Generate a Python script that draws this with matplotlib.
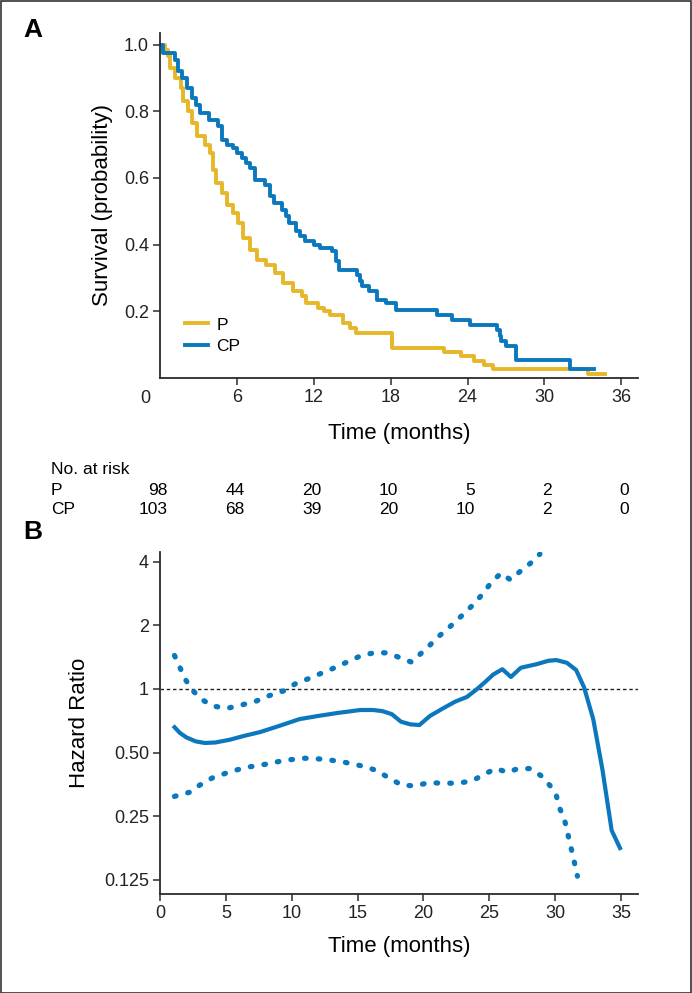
import matplotlib
matplotlib.use("Agg")
import matplotlib.pyplot as plt
import matplotlib.transforms as mtransforms
from matplotlib import font_manager
from matplotlib.patches import Rectangle
import numpy as np

names = {f.name for f in font_manager.fontManager.ttflist}
NARROW = "Liberation Sans Narrow" if "Liberation Sans Narrow" in names else "Liberation Sans"
plt.rcParams["font.family"] = [NARROW, "DejaVu Sans"]

YELLOW = "#E6B729"
BLUE = "#0B78BE"
AXC = "#2b2b2b"

# --- Panel A: Kaplan-Meier ---
p_time = [0, 0.4, 0.6, 0.8, 1.2, 1.6, 1.8, 2.2, 2.5, 2.9, 3.5, 3.9, 4.1, 4.4, 4.8,
          5.2, 5.7, 6.1, 6.5, 7.0, 7.6, 8.3, 9.0, 9.6, 10.4, 11.1, 11.4, 12.3, 12.8,
          13.3, 14.3, 14.8, 15.3, 18.1, 22.2, 23.5, 24.5, 25.3, 26.0, 33.4, 34.7]
p_surv = [1.0, 0.985, 0.965, 0.93, 0.90, 0.87, 0.83, 0.80, 0.765, 0.725, 0.70, 0.675,
          0.625, 0.585, 0.555, 0.52, 0.495, 0.465, 0.42, 0.385, 0.355, 0.34, 0.315,
          0.285, 0.26, 0.245, 0.225, 0.21, 0.20, 0.19, 0.165, 0.15, 0.135, 0.09,
          0.078, 0.066, 0.051, 0.039, 0.027, 0.012, 0.012]

cp_time = [0, 0.2, 1.2, 1.4, 1.7, 2.1, 2.5, 2.8, 3.1, 3.8, 4.5, 4.8, 5.2, 5.7, 6.0,
           6.4, 6.7, 7.0, 7.4, 8.2, 8.6, 8.9, 9.5, 9.8, 10.1, 10.6, 10.9, 11.3, 12.0,
           12.5, 13.4, 13.7, 14.0, 15.4, 15.6, 15.8, 16.3, 16.9, 17.6, 18.4, 21.6,
           22.8, 24.2, 26.3, 26.5, 26.6, 27.0, 27.8, 32.0, 33.9]
cp_surv = [1.0, 0.975, 0.955, 0.92, 0.90, 0.87, 0.84, 0.82, 0.795, 0.775, 0.755, 0.715,
           0.70, 0.69, 0.675, 0.66, 0.645, 0.63, 0.595, 0.58, 0.545, 0.525, 0.505,
           0.485, 0.465, 0.44, 0.425, 0.41, 0.40, 0.39, 0.38, 0.35, 0.325, 0.31,
           0.29, 0.275, 0.26, 0.235, 0.225, 0.205, 0.19, 0.175, 0.16, 0.145, 0.125,
           0.11, 0.095, 0.055, 0.027, 0.027]

risk_months = [0, 6, 12, 18, 24, 30, 36]
risk_p = [98, 44, 20, 10, 5, 2, 0]
risk_cp = [103, 68, 39, 20, 10, 2, 0]

# --- Panel B: hazard ratio over time ---
hr_time = [1.0, 1.5, 2.0, 2.7, 3.4, 4.2, 5.3, 6.4, 7.6, 9.1, 10.6, 12.0, 13.5, 15.2,
           16.2, 16.9, 17.6, 18.3, 19.0, 19.7, 20.5, 21.5, 22.4, 23.3, 24.0, 24.7,
           25.3, 26.0, 26.65, 27.4, 28.6, 29.5, 30.1, 30.9, 31.6, 32.2, 32.9, 33.6,
           34.3, 35.0]
hr_est = [0.67, 0.62, 0.59, 0.565, 0.555, 0.558, 0.575, 0.60, 0.625, 0.67, 0.72, 0.745,
          0.77, 0.795, 0.795, 0.785, 0.76, 0.70, 0.68, 0.675, 0.745, 0.81, 0.87, 0.916,
          0.99, 1.08, 1.17, 1.24, 1.14, 1.26, 1.31, 1.36, 1.37, 1.33, 1.23, 1.02, 0.72,
          0.415, 0.214, 0.173]

up_time = [1.1, 1.5, 1.9, 2.5, 3.2, 4.0, 5.1, 6.2, 7.3, 8.3, 9.4, 10.3, 11.3, 12.3,
           13.4, 14.3, 15.3, 16.4, 17.3, 18.3, 19.1, 19.7, 20.4, 21.1, 21.9, 22.6,
           23.3, 24.0, 24.6, 25.2, 25.9, 26.6, 27.3, 28.1, 28.85]
up_ci = [1.44, 1.27, 1.115, 0.98, 0.89, 0.83, 0.81, 0.84, 0.876, 0.93, 0.98, 1.06,
         1.12, 1.19, 1.27, 1.35, 1.44, 1.49, 1.48, 1.40, 1.34, 1.45, 1.59, 1.76, 1.94,
         2.13, 2.34, 2.59, 2.87, 3.22, 3.53, 3.29, 3.58, 3.92, 4.35]

lo_time = [1.1, 2.3, 3.0, 4.0, 5.3, 6.5, 8.0, 9.5, 11.0, 12.5, 14.0, 15.5, 16.5, 17.5,
           18.4, 19.4, 20.4, 21.5, 22.6, 23.7, 24.6, 25.5, 26.4, 27.1, 28.1, 28.9,
           29.6, 30.1, 30.3, 30.7, 30.9, 31.1, 31.3, 31.5, 31.7]
lo_ci = [0.31, 0.325, 0.35, 0.38, 0.405, 0.425, 0.44, 0.46, 0.47, 0.465, 0.45, 0.43,
         0.41, 0.375, 0.35, 0.348, 0.36, 0.358, 0.358, 0.367, 0.394, 0.42, 0.403, 0.418,
         0.42, 0.39, 0.35, 0.313, 0.277, 0.243, 0.215, 0.19, 0.168, 0.148, 0.13]

W, H = 692, 993
fig = plt.figure(figsize=(W / 100, H / 100), dpi=100)


def px_axes(left, top, right, bottom):
    return fig.add_axes([left / W, 1 - bottom / H, (right - left) / W, (bottom - top) / H])


def style(ax):
    for s in ("top", "right"):
        ax.spines[s].set_visible(False)
    for s in ("left", "bottom"):
        ax.spines[s].set_color(AXC)
        ax.spines[s].set_linewidth(1.3)
    ax.tick_params(direction="out", length=5, width=1.1, color=AXC,
                   labelsize=13, labelcolor="#222222", pad=3)


# Panel A
axA = px_axes(160, 33, 638, 378)
style(axA)
axA.step(p_time, p_surv, where="post", color=YELLOW, lw=2.8, label="P")
axA.step(cp_time, cp_surv, where="post", color=BLUE, lw=2.8, label="CP")
axA.set_xlim(0, 37.3)
axA.set_ylim(0, 1.035)
axA.set_xticks([6, 12, 18, 24, 30, 36])
axA.set_yticks([0.2, 0.4, 0.6, 0.8, 1.0], labels=["0.2", "0.4", "0.6", "0.8", "1.0"])
axA.text(-0.03, -0.058, "0", transform=axA.transAxes, ha="center", va="center",
         fontsize=13, color="#222222")
axA.set_xlabel("Time (months)", fontsize=16, labelpad=12)
axA.set_ylabel("Survival (probability)", fontsize=16, labelpad=8)
axA.legend(loc="lower left", bbox_to_anchor=(0.02, 0.025), frameon=False, fontsize=12.5,
           handlelength=1.3, handletextpad=0.5, labelspacing=0.35)

# risk table
tr = mtransforms.blended_transform_factory(axA.transData, fig.transFigure)
rfs = 12.5
fig.text(51 / W, 1 - 470 / H, "No. at risk", fontsize=rfs, va="center")
fig.text(51 / W, 1 - 490 / H, "P", fontsize=rfs, va="center")
fig.text(51 / W, 1 - 510 / H, "CP", fontsize=rfs, va="center")
for m, a, b in zip(risk_months, risk_p, risk_cp):
    axA.text(m + 0.6, 1 - 490 / H, str(a), transform=tr, ha="right", va="center", fontsize=rfs)
    axA.text(m + 0.6, 1 - 510 / H, str(b), transform=tr, ha="right", va="center", fontsize=rfs)

# Panel B
axB = px_axes(160, 552, 638, 894)
style(axB)
axB.set_yscale("log", base=2)
axB.axhline(1, color="#222222", lw=1.0, ls=(0, (2.5, 2)))
axB.plot(hr_time, hr_est, color=BLUE, lw=3.0, solid_capstyle="butt")
dots = dict(color=BLUE, lw=3.8, ls=(0, (0.3, 2.3)), dash_capstyle="round")
axB.plot(up_time, up_ci, **dots)
axB.plot(lo_time, lo_ci, **dots)
axB.set_xlim(0, 36.3)
axB.set_ylim(0.107, 4.45)
axB.set_xticks([0, 5, 10, 15, 20, 25, 30, 35])
yt = [0.125, 0.25, 0.5, 1, 2, 4]
axB.set_yticks(yt, labels=["0.125", "0.25", "0.50", "1", "2", "4"])
axB.minorticks_off()
axB.set_xlabel("Time (months)", fontsize=16, labelpad=10)
axB.set_ylabel("Hazard Ratio", fontsize=16, labelpad=10)

fig.text(33 / W, 1 - 30 / H, "A", fontsize=19, fontweight="bold", family="Liberation Sans",
         ha="center", va="center")
fig.text(33 / W, 1 - 532 / H, "B", fontsize=19, fontweight="bold", family="Liberation Sans",
         ha="center", va="center")

fig.patches.append(Rectangle((0.5 / W, 0.5 / H), 1 - 1.5 / W, 1 - 1.5 / H, transform=fig.transFigure,
                             fill=False, ec="#333333", lw=1.2))

fig.savefig("out.png", dpi=100, facecolor="white")
